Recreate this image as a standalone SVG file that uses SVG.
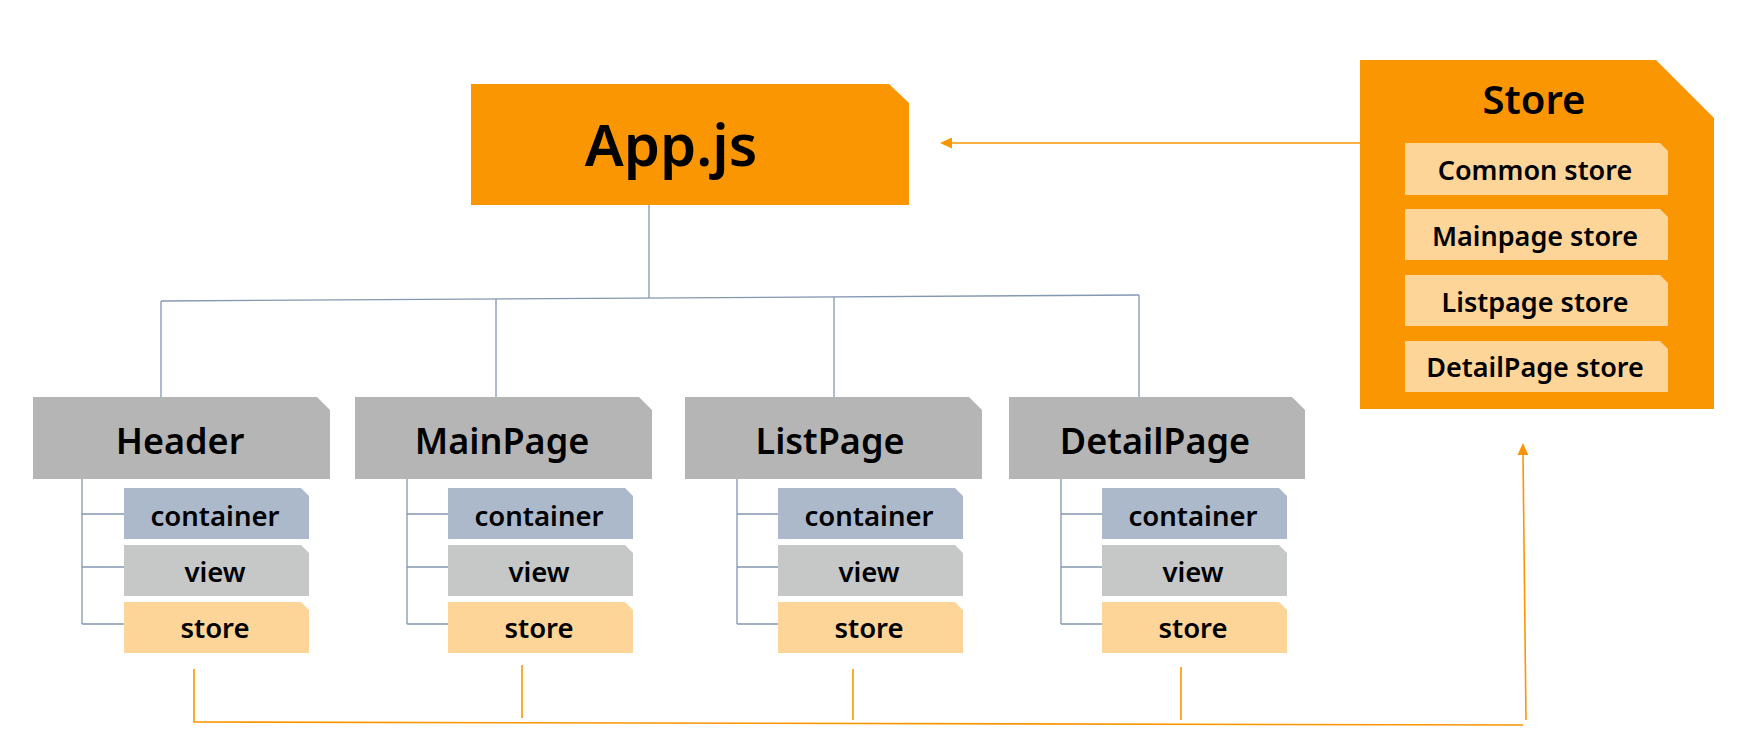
<svg xmlns="http://www.w3.org/2000/svg" width="1741" height="753" viewBox="0 0 1741 753">
<style>
text{font-family:"Noto Sans","Liberation Sans",sans-serif;font-weight:600;fill:#000;text-anchor:middle}
.page{fill:#B5B5B5}
.cont{fill:#ACB9CA}
.view{fill:#C6C8C7}
.st{fill:#FED598}
.org{fill:#FB9603}
.bl{stroke:#8497B0;stroke-width:1.3;fill:none}
.ol{stroke:#FB9603;stroke-width:1.6;fill:none}
.pt{font-size:36px}
.sub{font-size:27.5px}
.ss{font-size:27px}
</style>
<defs>
<marker id="ah" markerWidth="12" markerHeight="11" refX="0" refY="5.5" orient="auto" markerUnits="userSpaceOnUse">
<path d="M0,0 L12,5.5 L0,11 Z" fill="#FB9603"/>
</marker>
</defs>
<rect width="1741" height="753" fill="#fff"/>

<g id="connectors">
<line class="bl" x1="649" y1="205" x2="649" y2="298"/>
<line class="bl" x1="161" y1="301" x2="1139" y2="295"/>
<line class="bl" x1="161" y1="301" x2="161" y2="397"/>
<line class="bl" x1="496" y1="299" x2="496" y2="397"/>
<line class="bl" x1="834" y1="297" x2="834" y2="397"/>
<line class="bl" x1="1139" y1="295" x2="1139" y2="397"/>
<path class="bl" d="M82,479 V624 M82,514 H124 M82,567 H133 M82,624 H133"/>
<path class="bl" d="M407,479 V624 M407,514 H448 M407,567 H457 M407,624 H457"/>
<path class="bl" d="M737,479 V624 M737,514 H778 M737,567 H787 M737,624 H787"/>
<path class="bl" d="M1061,479 V624 M1061,514 H1102 M1061,567 H1111 M1061,624 H1111"/>
<line class="ol" x1="1360" y1="143" x2="952" y2="143" marker-end="url(#ah)"/>
<polyline class="ol" points="194,669 194,722 1523,725"/>
<line class="ol" x1="522" y1="665" x2="522" y2="718"/>
<line class="ol" x1="853" y1="669" x2="853" y2="720"/>
<line class="ol" x1="1181" y1="667" x2="1181" y2="720"/>
<line class="ol" x1="1526" y1="720" x2="1523" y2="455" marker-end="url(#ah)"/>
</g>

<g id="app">
<path class="org" d="M471,84 H889 L909,103 V205 H471 Z"/>
<text x="671" y="166" style="font-size:58px">App.js</text>
</g>

<g id="store-panel">
<path class="org" d="M1360,60 H1656 L1714,118 V409 H1360 Z"/>
<text x="1534" y="114" style="font-size:40px">Store</text>
<g id="common-store">
<path class="st" d="M1405,143 H1660 L1668,151 V195 H1405 Z"/>
<text class="ss" x="1535" y="180">Common store</text>
</g>
<g id="mainpage-store">
<path class="st" d="M1405,209 H1660 L1668,217 V260 H1405 Z"/>
<text class="ss" x="1535" y="246">Mainpage store</text>
</g>
<g id="listpage-store">
<path class="st" d="M1405,275 H1660 L1668,283 V326 H1405 Z"/>
<text class="ss" x="1535" y="312">Listpage store</text>
</g>
<g id="detailpage-store">
<path class="st" d="M1405,341 H1660 L1668,349 V392 H1405 Z"/>
<text class="ss" x="1535" y="377">DetailPage store</text>
</g>
</g>

<g id="header">
<path class="page" d="M33,397 H317 L330,410 V479 H33 Z"/>
<text class="pt" x="180" y="454">Header</text>
<path class="cont" d="M124,488 H301 L309,496 V539 H124 Z"/>
<text class="sub" x="215" y="526">container</text>
<path class="view" d="M124,545 H301 L309,553 V596 H124 Z"/>
<text class="sub" x="215" y="582">view</text>
<path class="st" d="M124,602 H301 L309,610 V653 H124 Z"/>
<text class="sub" x="215" y="638">store</text>
</g>

<g id="mainpage">
<path class="page" d="M355,397 H639 L652,410 V479 H355 Z"/>
<text class="pt" x="502" y="454">MainPage</text>
<path class="cont" d="M448,488 H625 L633,496 V539 H448 Z"/>
<text class="sub" x="539" y="526">container</text>
<path class="view" d="M448,545 H625 L633,553 V596 H448 Z"/>
<text class="sub" x="539" y="582">view</text>
<path class="st" d="M448,602 H625 L633,610 V653 H448 Z"/>
<text class="sub" x="539" y="638">store</text>
</g>

<g id="listpage">
<path class="page" d="M685,397 H969 L982,410 V479 H685 Z"/>
<text class="pt" x="830" y="454">ListPage</text>
<path class="cont" d="M778,488 H955 L963,496 V539 H778 Z"/>
<text class="sub" x="869" y="526">container</text>
<path class="view" d="M778,545 H955 L963,553 V596 H778 Z"/>
<text class="sub" x="869" y="582">view</text>
<path class="st" d="M778,602 H955 L963,610 V653 H778 Z"/>
<text class="sub" x="869" y="638">store</text>
</g>

<g id="detailpage">
<path class="page" d="M1009,397 H1292 L1305,410 V479 H1009 Z"/>
<text class="pt" x="1155" y="454">DetailPage</text>
<path class="cont" d="M1102,488 H1279 L1287,496 V539 H1102 Z"/>
<text class="sub" x="1193" y="526">container</text>
<path class="view" d="M1102,545 H1279 L1287,553 V596 H1102 Z"/>
<text class="sub" x="1193" y="582">view</text>
<path class="st" d="M1102,602 H1279 L1287,610 V653 H1102 Z"/>
<text class="sub" x="1193" y="638">store</text>
</g>
</svg>
